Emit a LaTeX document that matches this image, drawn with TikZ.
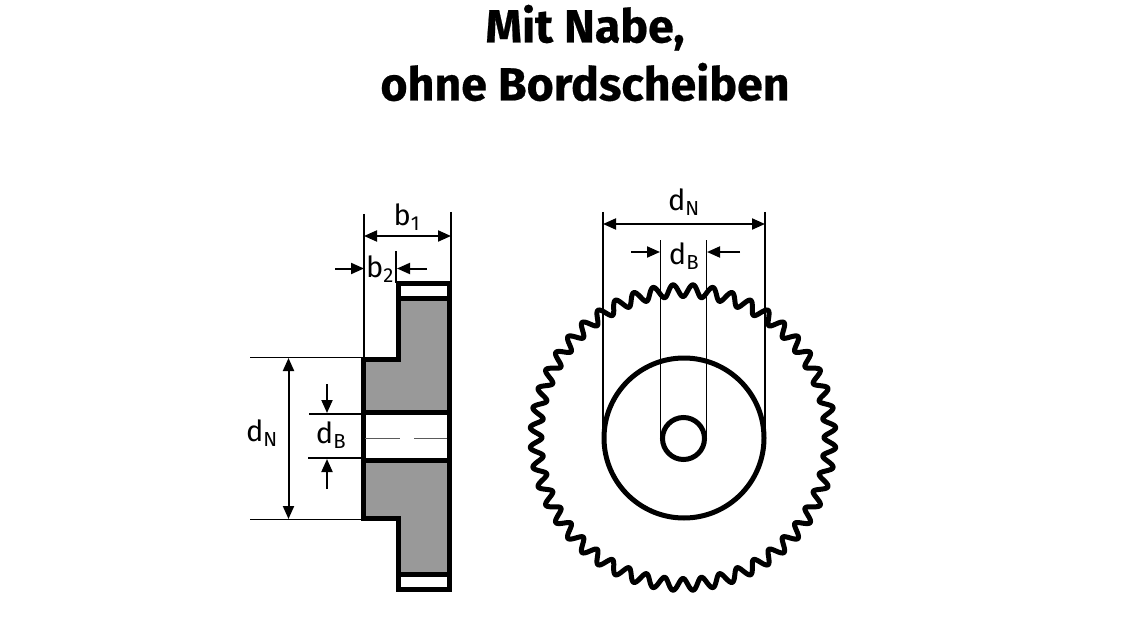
\documentclass[tikz,border=0pt]{standalone}
\usepackage{fontspec}
\setmainfont{Fira Sans}[BoldFeatures={FakeBold=0.5}]
\usetikzlibrary{arrows.meta}
\definecolor{hubgray}{RGB}{153, 153, 153}
\definecolor{centergray}{RGB}{90, 90, 90}
\tikzset{
    outline/.style={line width=5pt, line join=miter},
    witness/.style={line width=1.2pt},
    dimline/.style={line width=2pt, {Triangle[length=13pt,width=11pt]}-{Triangle[length=13pt,width=11pt]}},
    dimarrow/.style={line width=2pt, -{Triangle[length=13pt,width=11pt]}},
    dimlabel/.style={inner sep=0pt, font=\fontsize{29}{29}\selectfont},
    titlelabel/.style={inner sep=0pt, align=center, font=\fontsize{46.5}{58}\selectfont\bfseries}
}
\begin{document}
\begin{tikzpicture}[x=1pt, y=-1pt]
    \useasboundingbox (0,0) rectangle (1140,631);
    \node[titlelabel] (title) at (585,53) {Mit Nabe,\\ohne Bordscheiben};

    % side view
    \fill[hubgray] (398,298) -- (449,298) -- (449,412) -- (363,412) -- (363,359) -- (398,359) -- cycle;
    \fill[hubgray] (363,460) -- (449,460) -- (449,574) -- (398,574) -- (398,518) -- (363,518) -- cycle;
    \draw[outline] (398,359) -- (398,283) -- (449,283) -- (449,589) -- (398,589) -- (398,518) -- (363,518) -- (363,359) -- cycle;
    \draw[outline] (398,298) -- (449,298);
    \draw[outline] (398,574) -- (449,574);
    \draw[outline] (363,412) -- (449,412);
    \draw[outline] (363,460) -- (449,460);
    \draw[witness, color=centergray] (365,438.5) -- (400,438.5);
    \draw[witness, color=centergray] (414,438.5) -- (447,438.5);

    \coordinate (leftT) at (364,214);   \coordinate (leftB) at (364,357);
    \coordinate (rightT) at (451,212);  \coordinate (rightB) at (451,283);
    \coordinate (stepT) at (396,251);   \coordinate (stepB) at (396,283);
    \draw[witness] (leftT) -- (leftB);
    \draw[witness] (rightT) -- (rightB);
    \draw[witness] (stepT) -- (stepB);
    \coordinate (hubTa) at (250,357.5); \coordinate (hubTb) at (363,357.5);
    \coordinate (hubBa) at (250,519.5); \coordinate (hubBb) at (363,519.5);
    \coordinate (boreTa) at (309,414);  \coordinate (boreTb) at (363,414);
    \coordinate (boreBa) at (308,458);  \coordinate (boreBb) at (363,458);
    \draw[witness] (hubTa) -- (hubTb);
    \draw[witness] (hubBa) -- (hubBb);
    \draw[witness] (boreTa) -- (boreTb);
    \draw[witness] (boreBa) -- (boreBb);

    \coordinate (bOneL) at (364,236);   \coordinate (bOneR) at (451,236);
    \draw[dimline] (bOneL) -- (bOneR);
    \coordinate (bTwoA) at (335,268.5); \coordinate (bTwoB) at (364,268.5);
    \coordinate (bTwoC) at (427,268.5); \coordinate (bTwoD) at (397,268.5);
    \draw[dimarrow] (bTwoA) -- (bTwoB);
    \draw[dimarrow] (bTwoC) -- (bTwoD);
    \coordinate (dNT) at (288.5,358);   \coordinate (dNB) at (288.5,519);
    \draw[dimline] (dNT) -- (dNB);
    \coordinate (dBa) at (327,384);     \coordinate (dBb) at (327,413);
    \coordinate (dBc) at (327,489);     \coordinate (dBd) at (327,459);
    \draw[dimarrow] (dBa) -- (dBb);
    \draw[dimarrow] (dBc) -- (dBd);

    \node[dimlabel] (bOne) at (407,217) {b\textsubscript{1}};
    \node[dimlabel] (bTwo) at (380,269) {b\textsubscript{2}};
    \node[dimlabel] (dNside) at (262,433) {d\textsubscript{N}};
    \node[dimlabel] (dBside) at (331,435) {d\textsubscript{B}};

    % front view
    \draw[line width=5pt, line join=round] plot[domain=0:360, samples=1441, variable=\t]
        ({683+(147-6*cos(2*mod(24*\t,180)))*cos(\t)}, {437.5+(147-6*cos(2*mod(24*\t,180)))*sin(\t)}) -- cycle;
    \draw[outline] (684,438) circle (80);
    \draw[outline] (683.5,438.5) circle (21);

    \coordinate (wideTl) at (603,212);  \coordinate (wideBl) at (603,438);
    \coordinate (wideTr) at (765,212);  \coordinate (wideBr) at (765,438);
    \coordinate (boreTl) at (660.5,240); \coordinate (boreBl) at (660.5,438);
    \coordinate (boreTr) at (706.5,240); \coordinate (boreBr) at (706.5,438);
    \draw[witness] (wideTl) -- (wideBl);
    \draw[witness] (wideTr) -- (wideBr);
    \draw[witness] (boreTl) -- (boreBl);
    \draw[witness] (boreTr) -- (boreBr);

    \coordinate (dNl) at (603,224);     \coordinate (dNr) at (765,224);
    \draw[dimline] (dNl) -- (dNr);
    \coordinate (dBe) at (631,252);     \coordinate (dBf) at (660,252);
    \coordinate (dBg) at (740,252);     \coordinate (dBh) at (707,252);
    \draw[dimarrow] (dBe) -- (dBf);
    \draw[dimarrow] (dBg) -- (dBh);

    \node[dimlabel] (dNfront) at (684,202) {d\textsubscript{N}};
    \node[dimlabel] (dBfront) at (684,256) {d\textsubscript{B}};
\end{tikzpicture}
\end{document}
